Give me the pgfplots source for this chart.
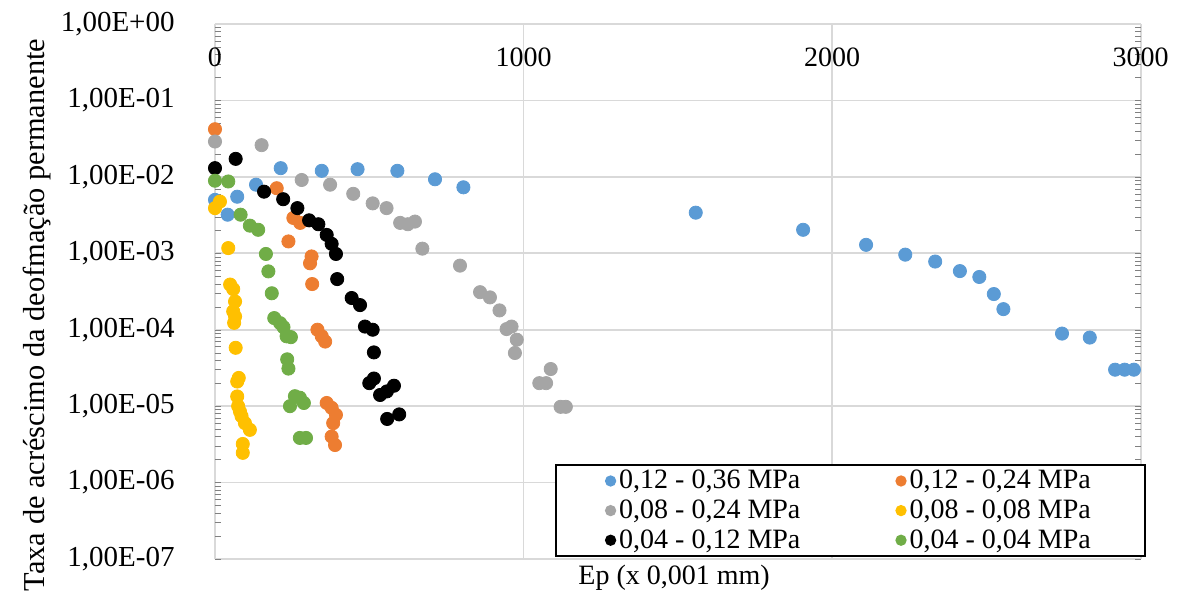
\documentclass[border=0pt]{standalone}
\usepackage{pgfplots}
\pgfplotsset{compat=1.18}
\usepackage{fontspec}
\setmainfont{Liberation Serif}

\definecolor{sBlue}{HTML}{5B9BD5}
\definecolor{sOrange}{HTML}{ED7D31}
\definecolor{sGray}{HTML}{A5A5A5}
\definecolor{sYellow}{HTML}{FFC000}
\definecolor{sGreen}{HTML}{70AD47}
\definecolor{gridgray}{HTML}{D9D9D9}

\begin{document}
\begin{tikzpicture}
\useasboundingbox (-107.5pt,-21pt) rectangle (484pt,279.5pt);
\begin{axis}[
  at={(0pt,0pt)}, anchor=south west,
  scale only axis, width=462.85pt, height=267.5pt,
  ymode=log, ymin=1e-7, ymax=1, xmin=0, xmax=3000,
  clip=false,
  axis line style={draw=none},
  major tick length=0pt,
  grid=major,
  major grid style={gridgray, line width=0.8pt},
  font=\fontsize{14}{16.8}\selectfont,
  xtick={0,1000,2000,3000},
  xticklabels={0,1000,2000,3000},
  xticklabel pos=right,
  xticklabel style={anchor=north, inner sep=0pt, yshift=-11.5pt},
  ytick={1e-7,1e-6,1e-5,1e-4,1e-3,1e-2,1e-1,1},
  yticklabels={{1,00E-07},{1,00E-06},{1,00E-05},{1,00E-04},{1,00E-03},{1,00E-02},{1,00E-01},{1,00E+00}},
  yticklabel style={anchor=east, inner sep=0pt, xshift=-20pt, font=\fontsize{14.5}{17}\selectfont},
  ylabel={Taxa de acréscimo da deofmação permanente},
  ylabel style={at={(axis description cs:-0.1923,0.456)}, anchor=center, font=\fontsize{15.2}{18}\selectfont},
  xlabel={Ep (x 0,001 mm)},
  xlabel style={at={(axis description cs:0.496,-0.0355)}, anchor=center},
  every axis plot/.append style={only marks, mark=*, mark size=3.3pt},
  legend columns=2,
  legend cell align=left,
  legend image code/.code={\draw[#1, mark size=2.3pt] plot coordinates {(0pt,0pt)};},
  legend style={at={(axis description cs:0.3673,0.0037)}, anchor=south west,
    draw=black, line width=1pt, fill=white, inner xsep=25pt, inner ysep=0.5pt,
    row sep=0pt,
    /tikz/every even column/.append style={column sep=46pt},
    font=\fontsize{14}{16.8}\selectfont},
]
% 0,12 - 0,36 MPa
\addplot[sBlue, mark options={fill=sBlue, draw=sBlue}] coordinates {
(0,5.0e-3) (41,3.2e-3) (72,5.5e-3) (133,7.9e-3) (213,1.30e-2) (346,1.2e-2)
(462,1.26e-2) (591,1.2e-2) (713,9.3e-3) (805,7.3e-3) (1558,3.4e-3) (1906,2.03e-3)
(2110,1.29e-3) (2237,9.6e-4) (2334,7.8e-4) (2414,5.85e-4) (2477,4.9e-4)
(2524,2.93e-4) (2555,1.86e-4) (2745,8.9e-5) (2835,7.9e-5) (2917,3.0e-5)
(2948,3.0e-5) (2978,3.0e-5)};
\addlegendentry{0,12 - 0,36 MPa}
% 0,12 - 0,24 MPa
\addplot[sOrange, mark options={fill=sOrange, draw=sOrange}] coordinates {
(0,4.2e-2) (200,7.1e-3) (254,2.9e-3) (276,2.5e-3) (238,1.43e-3) (313,9.1e-4)
(308,7.4e-4) (315,3.96e-4) (332,1.0e-4) (346,8.2e-5) (357,7.0e-5) (362,1.1e-5)
(378,9.5e-6) (392,7.7e-6) (383,6.0e-6) (378,4.0e-6) (389,3.1e-6)};
\addlegendentry{0,12 - 0,24 MPa}
% 0,08 - 0,24 MPa
\addplot[sGray, mark options={fill=sGray, draw=sGray}] coordinates {
(0,2.9e-2) (151,2.6e-2) (281,9.1e-3) (373,7.9e-3) (448,6.0e-3) (511,4.5e-3)
(556,3.9e-3) (600,2.5e-3) (625,2.4e-3) (648,2.6e-3) (672,1.15e-3) (794,6.9e-4)
(859,3.1e-4) (891,2.65e-4) (922,1.79e-4) (945,1.02e-4) (961,1.10e-4) (978,7.4e-5)
(972,4.96e-5) (1088,3.06e-5) (1051,2.0e-5) (1073,2.0e-5) (1120,9.8e-6) (1137,9.8e-6)};
\addlegendentry{0,08 - 0,24 MPa}
% 0,08 - 0,08 MPa
\addplot[sYellow, mark options={fill=sYellow, draw=sYellow}] coordinates {
(0,3.9e-3) (16,4.75e-3) (43,1.17e-3) (49,3.9e-4) (59,3.4e-4) (65,2.34e-4)
(59,1.74e-4) (65,1.49e-4) (62,1.23e-4) (67,5.8e-5) (77,2.34e-5) (72,2.1e-5)
(72,1.34e-5) (75,1.0e-5) (81,8.5e-6) (86,7.4e-6) (97,6.0e-6) (113,4.9e-6)
(90,3.2e-6) (90,2.45e-6)};
\addlegendentry{0,08 - 0,08 MPa}
% 0,04 - 0,12 MPa
\addplot[black, mark options={fill=black, draw=black}] coordinates {
(0,1.3e-2) (67,1.72e-2) (159,6.4e-3) (221,5.1e-3) (267,3.9e-3) (305,2.7e-3)
(335,2.4e-3) (362,1.74e-3) (378,1.33e-3) (392,9.8e-4) (396,4.6e-4) (443,2.6e-4)
(470,2.1e-4) (486,1.1e-4) (511,1.0e-4) (515,5.05e-5) (500,2.0e-5) (515,2.3e-5)
(535,1.4e-5) (557,1.56e-5) (580,1.85e-5) (558,6.8e-6) (597,7.8e-6)};
\addlegendentry{0,04 - 0,12 MPa}
% 0,04 - 0,04 MPa
\addplot[sGreen, mark options={fill=sGreen, draw=sGreen}] coordinates {
(0,8.9e-3) (43,8.7e-3) (83,3.2e-3) (113,2.3e-3) (140,2.03e-3) (165,9.8e-4)
(173,5.8e-4) (184,3.0e-4) (192,1.42e-4) (211,1.22e-4) (222,1.08e-4) (232,8.2e-5)
(246,8.0e-5) (234,4.1e-5) (238,3.1e-5) (243,1.0e-5) (259,1.35e-5) (275,1.29e-5)
(288,1.1e-5) (275,3.84e-6) (295,3.84e-6)};
\addlegendentry{0,04 - 0,04 MPa}
\end{axis}
\end{tikzpicture}
\end{document}
